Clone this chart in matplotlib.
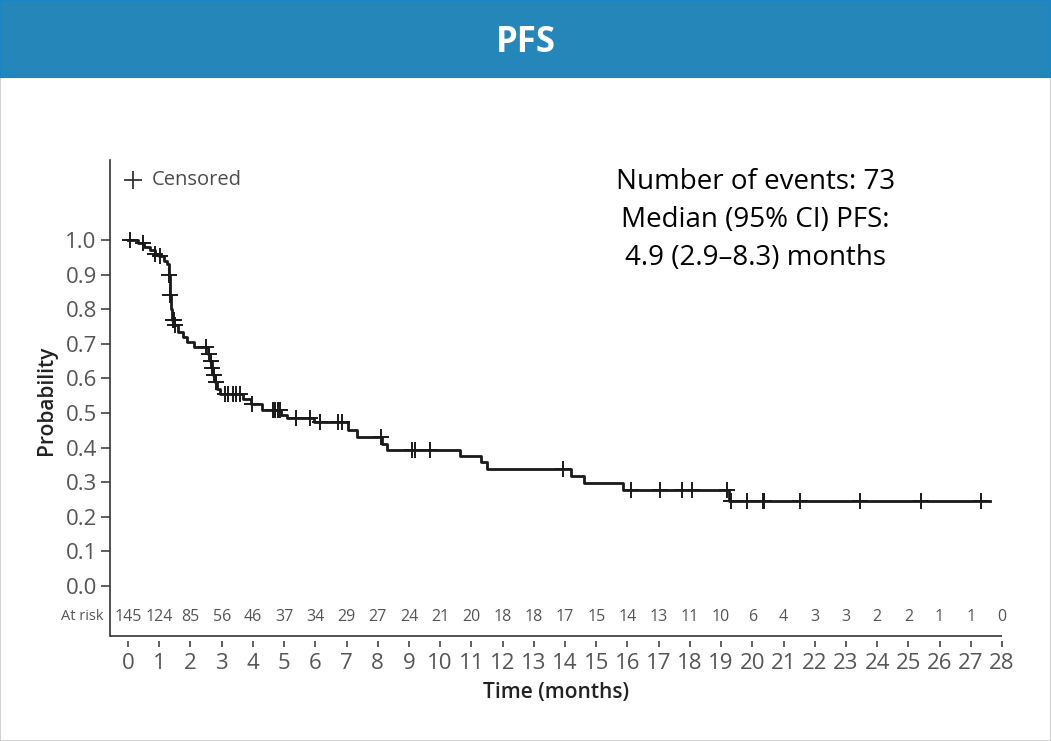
import numpy as np
import matplotlib
matplotlib.use("Agg")
import matplotlib.pyplot as plt
from matplotlib.patches import Rectangle

plt.rcParams['font.family'] = ['Open Sans', 'DejaVu Sans']

# Kaplan-Meier step curve (time in months, survival after the step)
step_t = [0, 0.32, 0.5, 0.7, 0.85, 1.0, 1.15, 1.25, 1.3, 1.33, 1.36, 1.39, 1.42,
          1.48, 1.6, 1.75, 1.9, 2.1, 2.55, 2.62, 2.68, 2.72, 2.78, 2.85, 2.95,
          3.7, 3.95, 4.3, 4.9, 5.1, 5.95, 7.05, 7.35, 8.15, 8.3, 10.65, 11.3,
          11.5, 14.2, 14.6, 15.85, 19.25]
step_s = [1.0, 0.99, 0.98, 0.97, 0.96, 0.955, 0.94, 0.93, 0.90, 0.87, 0.84, 0.80, 0.77,
          0.755, 0.735, 0.72, 0.705, 0.692, 0.67, 0.65, 0.63, 0.61, 0.59, 0.57, 0.555,
          0.54, 0.525, 0.51, 0.495, 0.486, 0.474, 0.452, 0.43, 0.41, 0.393, 0.375, 0.357,
          0.338, 0.317, 0.298, 0.278, 0.247]
end_t = 27.6

censor_t = [0.05, 0.48, 0.87, 1.03, 1.3, 1.36, 1.44, 1.46, 1.5, 2.5, 2.6, 2.65, 2.7,
            2.75, 2.82, 3.1, 3.2, 3.35, 3.45, 3.6, 3.97, 4.65, 4.72, 4.8, 4.87, 5.38,
            5.83, 6.15, 6.73, 6.86, 8.1, 9.1, 9.2, 9.68, 13.94, 16.1, 17.05, 17.76,
            18.08, 19.2, 19.33, 19.84, 20.33, 20.38, 21.54, 23.46, 25.42, 27.34]

risk_t = list(range(29))
at_risk = [145, 124, 85, 56, 46, 37, 34, 29, 27, 24, 21, 20, 18, 18, 17, 15, 14, 13,
           11, 10, 6, 4, 3, 3, 2, 2, 1, 1, 0]

W, H = 1051, 741
fig = plt.figure(figsize=(W / 100, H / 100), dpi=100)

# banner + frame
fig.patches.append(Rectangle((0, 0), 1, 1, transform=fig.transFigure,
                             facecolor='none', edgecolor='#c8c8c8', lw=1.2))
fig.patches.append(Rectangle((0, 1 - 77 / H), 1, 77 / H, transform=fig.transFigure,
                             facecolor='#2586ba', edgecolor='#1a84c6', lw=1.5))
fig.text(0.5, 1 - 43 / H, 'PFS', color='white', fontsize=25, fontweight='bold',
         ha='center', va='center')

# axes geometry in pixels
left, right, top, bottom = 110, 1002, 160, 641
ax = fig.add_axes([left / W, 1 - bottom / H, (right - left) / W, (bottom - top) / H])
ax.patch.set_alpha(0)


def py(y):
    return (586 - y) / 346


ax.set_xlim(-18 / 31.2, 28)
ax.set_ylim(py(bottom), py(top))

line_y = py(636)
ax.spines[['top', 'right', 'bottom']].set_visible(False)
ax.spines['left'].set_bounds(line_y, py(top))
ax.spines['left'].set_color('#333333')
ax.spines['left'].set_linewidth(1.2)
ax.plot([ax.get_xlim()[0], 28], [line_y, line_y], color='#333333', lw=1.2,
        clip_on=False, solid_capstyle='butt')

ax.set_xticks(range(29))
ax.set_yticks(np.round(np.arange(0, 1.01, 0.1), 1))
ax.set_yticklabels([f'{v:.1f}' for v in np.arange(0, 1.01, 0.1)])
ax.tick_params(axis='x', length=4.5, width=1.1, color='#333333', pad=4,
               labelsize=16, labelcolor='#555555')
ax.tick_params(axis='y', length=6.5, width=1.1, color='#333333', pad=3,
               labelsize=16, labelcolor='#555555')

# curve
xs = list(step_t) + [end_t]
ys = list(step_s) + [step_s[-1]]
ax.step(xs, ys, where='post', color='#1a1a1a', lw=2.0, zorder=3)

idx = np.searchsorted(step_t, censor_t, side='right') - 1
cs = np.array(step_s)[idx]
ax.plot(censor_t, cs, ls='none', marker='+', ms=11, mew=1.4, color='#1a1a1a', zorder=4)

# at risk row
for t, n in zip(risk_t, at_risk):
    ax.text(t, py(617), str(n), ha='center', va='center', fontsize=11.5, color='#555555')
ax.text(-24 / 31.2, py(617), 'At risk', ha='right', va='center', fontsize=10.5,
        color='#555555')

# legend
ax.plot([(133 - 128) / 31.2], [py(180)], ls='none', marker='+', ms=13, mew=1.3,
        color='#333333')
ax.text((152 - 128) / 31.2, py(180), 'Censored', ha='left', va='center',
        fontsize=14.5, color='#4a4a4a')

# annotation
ax.text((755 - 128) / 31.2, py(220),
        'Number of events: 73\nMedian (95% CI) PFS:\n4.9 (2.9\u20138.3) months',
        ha='center', va='center', fontsize=20, color='#000000', linespacing=1.48)

ax.set_ylabel('Probability', fontsize=15, fontweight='semibold', color='#222222',
              labelpad=6)
ax.set_xlabel('Time (months)', fontsize=15, fontweight='semibold', color='#222222',
              labelpad=6)

fig.savefig('out.png', dpi=100)
